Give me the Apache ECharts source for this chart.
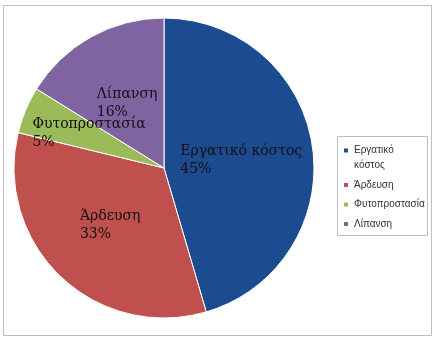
<!DOCTYPE html>
<html><head><meta charset="utf-8">
<script src="https://cdn.jsdelivr.net/npm/echarts@6/dist/echarts.min.js"></script>
<style>html,body{margin:0;padding:0;background:#fff}#c{width:438px;height:338px}</style>
</head><body><div id="c"></div>
<script>
const categories = ['Εργατικό κόστος', 'Άρδευση', 'Φυτοπροστασία', 'Λίπανση'];
const values = [45, 33, 5, 16];
const percentLabels = ['45%', '33%', '5%', '16%'];
const colors = ['#1D4B90', '#C0504D', '#9BBB59', '#8064A2'];
const labelOffsets = [[0, 3], [0, 1], [-3, -5], [1, 4]];

const chart = echarts.init(document.getElementById('c'), null, {renderer: 'canvas'});
const data = categories.map((n, i) => ({
  name: n, value: values[i], itemStyle: {color: colors[i]},
  label: {offset: labelOffsets[i]}
}));
chart.setOption({
  animation: false,
  graphic: [
    {type: 'rect', shape: {x: 3.5, y: 5.5, width: 428, height: 330}, style: {fill: 'none', stroke: '#BFBFBF', lineWidth: 1}, silent: true},
    {type: 'rect', shape: {x: 337.5, y: 136.5, width: 90, height: 99}, style: {fill: 'none', stroke: '#BFBFBF', lineWidth: 1}, silent: true}
  ],
  legend: {
    orient: 'vertical',
    left: 342, top: 128, padding: 0,
    itemWidth: 6, itemHeight: 6, itemGap: 4.5,
    icon: 'rect',
    data: categories,
    formatter: n => n.indexOf(' ') >= 0 ? '\n' + n.replace(' ', '\n') : n,
    textStyle: {fontFamily: 'Liberation Sans', fontSize: 10, color: '#333', lineHeight: 15}
  },
  series: [{
    type: 'pie',
    center: [164, 168],
    radius: [0, 150],
    startAngle: 90,
    clockwise: true,
    avoidLabelOverlap: false,
    labelLayout: {hideOverlap: false},
    itemStyle: {borderColor: '#fff', borderWidth: 1},
    label: {
      show: true,
      position: 'inner',
      formatter: p => '{a|' + p.name + '}\n{a|' + percentLabels[p.dataIndex] + '}',
      rich: {a: {align: 'left', fontFamily: 'DejaVu Serif', fontSize: 14, color: '#111', lineHeight: 18}}
    },
    labelLine: {show: false},
    data: data
  }]
});
</script></body></html>
